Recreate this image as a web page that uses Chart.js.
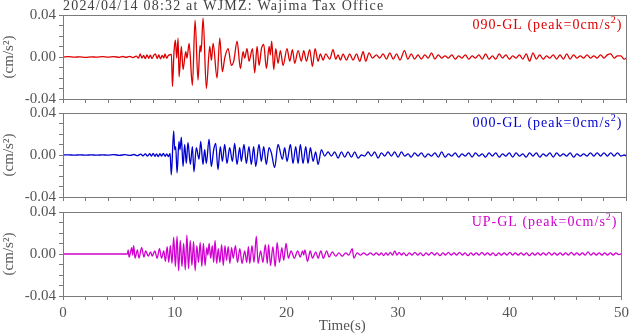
<!DOCTYPE html>
<html><head><meta charset="utf-8">
<script src="https://cdn.jsdelivr.net/npm/chart.js@4.4.1/dist/chart.umd.min.js"></script>
<style>
html,body{margin:0;padding:0;background:#fff;}
#wrap{position:relative;width:633px;height:334px;overflow:hidden;background:#fff;}
canvas{position:absolute;left:0;}
</style></head>
<body><div id="wrap"></div>
<script>
// ---- data (time in s, acceleration in cm/s^2) ----
const TITLE = "2024/04/14 08:32 at WJMZ: Wajima Tax Office";
const CHANNELS = ["090-GL", "000-GL", "UP-GL"];
const PEAKS = ["0", "0", "0"];
const X_TICKS = [0, 10, 20, 30, 40, 50];
const Y_TICKS = [0.04, 0.00, -0.04];

const T090 = [0,0.5,1,1.5,2,2.5,3,3.5,4,4.5,5,5.3,5.6,5.9,6.2,6.5,6.7,6.85,7,7.15,7.3,7.45,7.6,7.75,7.9,8.05,8.2,8.35,8.5,8.65,8.8,8.95,9.05,9.2,9.35,9.47,9.62,
9.71,9.85,9.97,10.09,10.21,10.3,10.5,10.65,10.89,11,11.19,11.48,11.72,11.98,12.16,12.25,12.43,12.72,13.02,13.17,13.32,13.67,13.91,14.14,14.35,14.65,14.94,15.15,15.45,15.74,15.98,16.12,16.33,16.51,16.81,17.01,17.22,17.4,17.61,17.81,18.05,18.29,18.4,18.52,18.7,18.88,19.08,19.29,19.53,19.88,20.12,20.36,20.56,20.86,21.15,21.36,21.6,21.89,22.13,22.37,22.63,22.84,23.08,23.31,23.67,23.96,24.2,24.41,24.62,24.85,25.15,25.44,25.74,26.04,26.33,26.63,26.86,27.16,27.46,27.81,28.1,
28.4,28.7,29,29.3,29.6,29.9,30.3,30.6,30.9,31.2,31.5,31.8,32.1,32.4,32.7,33,33.3,33.6,33.9,34.2,34.5,34.8,35.1,35.4,35.7,36,36.3,36.6,36.9,37.2,37.5,37.8,38.1,38.4,38.7,39,39.3,39.6,39.9,40.2,40.5,40.8,41.1,41.4,41.7,42,42.3,42.6,42.9,43.2,43.5,43.8,44.1,44.4,44.7,45,45.3,45.6,45.9,46.2,46.5,46.8,47.1,47.4,47.7,48,48.3,48.6,48.9,49.2,49.5,49.8,50];
const A090 = [0,0.0003,-0.0002,0.0002,-0.0003,0.0002,-0.0002,0.0003,-0.0002,0.0003,-0.0003,0.0005,-0.0004,0.0006,-0.0005,0.0008,-0.001,0.003,-0.001,0.0015,-0.0015,0.002,-0.0012,0.0018,-0.0015,0.0015,0.003,-0.0015,0.002,-0.0018,0.0015,-0.001,0.003,-0.0012,0.0015,0.002,0.0025,
-0.028,0.005,0.016,-0.001,0.018,-0.019,0.010,-0.012,0.005,-0.001,0.013,-0.027,0.035,-0.022,0.011,0.005,0.037,-0.030,0.010,-0.003,0.013,-0.020,0.018,-0.014,-0.001,0.008,-0.008,-0.004,0.015,-0.011,0.005,-0.001,0.008,-0.004,0.008,-0.015,0.010,-0.008,0.008,0.012,-0.011,0.010,0.002,0.015,-0.012,0.008,-0.006,0.006,-0.008,0.008,-0.004,0.007,-0.006,0.006,-0.004,0.006,-0.004,0.007,-0.009,0.008,-0.004,0.003,-0.003,0.003,-0.002,0.007,-0.002,0.002,-0.003,0.003,-0.003,0.003,-0.003,0.003,-0.004,0.005,-0.004,0.004,-0.001,0.002,-0.001,
0.003,-0.002,0.004,-0.002,0.003,-0.003,0.006,-0.002,0.003,-0.002,0.002,-0.002,0.002,-0.001,0.004,-0.002,0.002,-0.001,0.001,-0.001,0.002,-0.002,0.001,-0.001,0.002,-0.002,0.001,-0.001,0.002,-0.002,0.003,-0.002,0.001,-0.002,0.003,-0.001,0.002,-0.002,0.001,-0.001,0.002,-0.002,0.003,-0.004,0.004,-0.002,0.002,-0.002,0.001,-0.001,0.002,-0.002,0.002,-0.002,0.003,-0.002,0.002,-0.001,0.001,-0.001,0.002,-0.001,0.001,-0.001,0.002,-0.001,0.002,0.003,-0.001,0.001,0.001,-0.002,-0.001];

const T000 = [0,0.5,1,1.5,2,2.5,3,3.5,4,4.5,5,5.5,6,6.3,6.6,6.9,7.1,7.3,7.5,7.7,7.85,8,8.15,8.3,8.45,8.6,8.75,8.9,9.05,9.2,9.35,9.5,
9.61,9.82,9.91,10,10.12,10.29,10.38,10.5,10.65,10.8,10.94,11.09,11.3,11.48,11.62,11.83,12.07,12.22,12.42,12.57,12.72,12.96,13.16,13.37,13.55,13.75,13.96,14.14,14.35,14.55,14.79,15.03,15.23,15.44,15.68,15.82,16.06,16.27,16.5,16.71,16.92,17.1,17.39,17.6,17.81,18.04,18.28,18.49,18.78,19.08,19.47,19.67,19.88,20.18,20.41,20.65,20.86,21.06,21.3,21.54,21.74,21.95,22.19,22.42,22.63,22.93,23.22,23.52,23.81,24.11,24.41,24.7,25,25.29,25.59,25.89,26.18,26.48,26.77,27.07,27.36,27.66,27.96,28.25,28.55,28.84,29.14,29.43,29.73,30.03,30.32,30.62,
30.9,31.2,31.5,31.8,32.1,32.4,32.7,33,33.3,33.6,33.9,34.2,34.5,34.8,35.1,35.4,35.7,36,36.3,36.6,36.9,37.2,37.5,37.8,38.1,38.4,38.7,39,39.3,39.6,39.9,40.2,40.5,40.8,41.1,41.4,41.7,42,42.3,42.6,42.9,43.2,43.5,43.8,44.1,44.4,44.7,45,45.3,45.6,45.9,46.2,46.5,46.8,47.1,47.4,47.7,48,48.3,48.6,48.9,49.2,49.5,49.8,50];
const A000 = [0,0.0002,-0.0002,0.0002,-0.0002,0.0002,-0.0002,0.0002,-0.0002,0.0003,-0.0003,0.0003,-0.0004,0.0005,-0.0006,0.0008,-0.0008,0.001,-0.001,0.0012,-0.001,0.0015,-0.0012,0.001,-0.0015,0.0012,-0.001,0.0015,-0.0012,0.001,-0.0015,0.0015,
-0.019,0.023,0.005,0.008,-0.017,0.013,0.005,0.017,-0.011,0.010,-0.008,0.012,-0.009,0.008,-0.016,0.007,-0.004,0.013,-0.009,0.005,-0.008,0.015,-0.011,0.005,0.011,-0.014,0.008,-0.006,0.010,-0.008,0.007,-0.006,0.011,-0.009,0.007,-0.006,0.010,-0.008,0.008,-0.009,0.008,-0.011,0.010,-0.006,0.008,-0.009,0.007,0.002,-0.012,0.010,-0.004,0.007,-0.006,0.010,-0.008,0.008,-0.008,0.010,-0.008,0.008,-0.008,0.007,-0.006,0.003,-0.009,0.005,-0.001,0.003,-0.001,0.003,-0.003,0.003,-0.002,0.003,-0.002,0.003,-0.003,0.000,-0.001,0.003,-0.001,0.003,-0.003,0.002,-0.001,0.003,-0.001,0.003,-0.002,0.003,-0.001,0.001,
-0.002,0.002,-0.001,0.002,-0.002,0.001,-0.001,0.002,-0.002,0.003,-0.002,0.001,-0.001,0.002,-0.002,0.001,-0.001,0.002,-0.002,0.002,-0.001,0.001,-0.002,0.002,-0.001,0.002,-0.002,0.001,-0.001,0.002,-0.002,0.002,-0.001,0.001,-0.002,0.002,-0.001,0.002,-0.002,0.001,-0.001,0.002,-0.002,0.002,-0.001,0.001,-0.001,0.002,-0.002,0.001,-0.001,0.001,-0.001,0.002,-0.001,0.002,-0.001,0.002,-0.001,0.002,-0.001,0.002,-0.001,0.000,-0.001];

const TUP = [0,5.77,5.83,5.92,6.07,6.15,6.24,6.33,6.45,6.66,6.8,7.04,7.25,7.4,7.63,7.84,7.99,8.22,8.43,8.64,8.82,9.02,9.17,9.32,9.47,9.61,9.76,9.91,10.06,10.21,10.35,10.5,10.65,10.8,10.95,11.09,11.24,11.39,11.54,11.69,11.83,11.98,12.13,12.28,12.43,12.57,12.72,12.87,12.97,13.08,13.22,13.37,13.49,13.61,13.76,13.9,14.05,14.2,14.35,14.5,14.64,14.79,14.94,15.09,15.24,15.44,15.62,15.83,16.03,16.27,16.45,
16.6,16.72,16.92,17.1,17.31,17.46,17.69,17.9,18.11,18.29,18.4,18.58,18.79,19,19.17,19.38,19.59,19.76,19.97,20.18,20.42,20.71,21.01,21.24,21.45,21.55,21.66,21.89,22.13,22.34,22.63,22.84,23.08,23.31,23.61,23.82,24.11,24.41,24.7,25,25.3,25.59,25.89,26.04,26.33,26.63,26.92,27.22,27.51,27.81,28.05,
28.3,28.5,28.7,28.9,29.1,29.3,29.5,29.7,29.9,30.1,30.3,30.5,30.75,31,31.25,31.5,31.75,32,32.25,32.5,32.75,33,33.25,33.5,33.75,34,34.25,34.5,34.75,35,35.25,35.5,35.75,36,36.25,36.5,36.75,37,37.25,37.5,37.75,38,38.25,38.5,38.75,39,39.25,39.5,39.75,40,40.25,40.5,40.75,41,41.25,41.5,41.75,42,42.25,42.5,42.75,43,43.25,43.5,43.75,44,44.25,44.5,44.75,45,45.25,45.5,45.75,46,46.25,46.5,46.75,47,47.25,47.5,47.75,48,48.25,48.5,48.75,49,49.25,49.5,49.75,50];
const AUP = [0,0,0.004,-0.003,0.003,0.006,-0.001,0.008,-0.004,0.004,-0.004,0.006,-0.003,0.003,-0.002,0.002,-0.002,0.003,-0.004,0.005,-0.004,0.003,-0.007,0.007,-0.008,0.008,-0.009,0.016,-0.012,0.017,-0.016,0.013,-0.012,0.010,-0.015,0.018,-0.014,0.013,-0.011,0.012,-0.016,0.008,-0.008,0.011,-0.012,0.010,-0.011,0.006,-0.001,0.010,-0.004,0.008,-0.008,0.013,-0.009,0.005,-0.008,0.009,-0.011,0.008,-0.006,0.007,-0.009,0.006,-0.004,0.008,-0.008,0.005,-0.009,0.003,-0.008,
0.007,-0.009,0.008,-0.008,0.017,-0.009,0.003,-0.008,0.009,-0.009,0.009,-0.011,0.007,-0.012,0.011,-0.008,0.006,-0.006,0.010,-0.004,0.003,-0.004,0.003,-0.003,0.003,-0.001,0.004,-0.007,0.003,-0.004,0.002,-0.004,0.003,-0.004,0.003,-0.003,0.002,-0.002,0.001,-0.002,0.001,-0.001,0.005,-0.004,0.001,-0.001,0.001,-0.001,0.001,-0.001,0.001,
-0.001,0.001,-0.0015,0.001,-0.001,0.0015,-0.001,0.003,-0.001,0.0015,-0.001,0.001,-0.0015,0.001,-0.001,0.0015,-0.001,0.001,-0.0015,0.001,-0.001,0.0015,-0.001,0.001,-0.0015,0.001,-0.001,0.0015,-0.001,0.001,-0.001,0.0015,-0.001,0.001,-0.0015,0.001,-0.001,0.001,-0.001,0.0015,-0.001,0.001,-0.001,0.001,-0.0015,0.001,-0.001,0.001,-0.001,0.0015,-0.001,0.001,-0.001,0.001,-0.001,0.001,-0.0015,0.001,-0.001,0.001,-0.001,0.001,-0.001,0.0015,-0.001,0.001,-0.001,0.001,-0.001,0.001,-0.001,0.0015,-0.001,0.001,-0.001,0.001,-0.001,0.002,-0.001,0.001,-0.001,0.001,-0.001,0.001,-0.001,0.001,-0.001,0.001,-0.0005,0];

const SERIES = [
  {t: T090, a: A090, color: "#dd0000"},
  {t: T000, a: A000, color: "#0000d0"},
  {t: TUP,  a: AUP,  color: "#d000d0"}
];

// ---- styling ----
const FONT = "'Liberation Serif','Times New Roman',serif";
const GRAY = "#7a7a7a";
const TXT = "#555555";
const PANELS = [
  {top: 0,   height: 113, axisH: 14},
  {top: 98,  height: 113, axisH: 14},
  {top: 197, height: 137, axisH: 38}
];

function panelPlugin(idx) {
  return {
    id: "panel" + idx,
    afterDraw(chart) {
      const ctx = chart.ctx, ca = chart.chartArea;
      ctx.save();
      ctx.strokeStyle = GRAY; ctx.lineWidth = 1;
      ctx.strokeRect(Math.round(ca.left) + 0.5, Math.round(ca.top) + 0.5,
                     Math.round(ca.right - ca.left) - 1, Math.round(ca.bottom - ca.top));
      const main = CHANNELS[idx] + " (peak=" + PEAKS[idx] + "cm/s";
      ctx.fillStyle = SERIES[idx].color;
      ctx.textBaseline = "alphabetic";
      ctx.letterSpacing = "1px";
      ctx.font = "14px " + FONT;
      const w1 = ctx.measureText(main).width;
      const w3 = ctx.measureText(")").width;
      ctx.font = "10px " + FONT;
      const w2 = ctx.measureText("2").width;
      const right = ca.right - 4;
      const base = ca.top + 13.5;
      let x = right - (w1 + w2 + w3);
      ctx.font = "14px " + FONT;
      ctx.fillText(main, x, base);
      x += w1;
      ctx.font = "10px " + FONT;
      ctx.fillText("2", x, base - 5.5);
      x += w2;
      ctx.font = "14px " + FONT;
      ctx.fillText(")", x, base);
      if (idx === 0) {
        ctx.fillStyle = "#404040";
        ctx.letterSpacing = "1.2px";
        ctx.font = "14px " + FONT;
        ctx.fillText(TITLE, ca.left, 10);
      }
      ctx.restore();
    }
  };
}

const wrap = document.getElementById("wrap");
PANELS.forEach((p, idx) => {
  const cv = document.createElement("canvas");
  cv.width = 633; cv.height = p.height;
  cv.style.top = p.top + "px";
  wrap.appendChild(cv);
  const last = idx === PANELS.length - 1;
  const s = SERIES[idx];
  new Chart(cv, {
    type: "line",
    data: {datasets: [{
      data: s.t.map((t, i) => ({x: t, y: s.a[i]})),
      borderColor: s.color, borderWidth: 1.3, pointRadius: 0,
      cubicInterpolationMode: "monotone", fill: false
    }]},
    options: {
      responsive: false, animation: false, events: [],
      layout: {padding: {top: 15, right: 6.5, left: 0, bottom: 0}},
      plugins: {legend: {display: false}, tooltip: {enabled: false}, title: {display: false}},
      scales: {
        x: {
          type: "linear", min: 0, max: 50,
          afterFit(sc) { sc.height = p.axisH; },
          ticks: {
            stepSize: 2, autoSkip: false, maxRotation: 0, minRotation: 0,
            padding: 4, color: TXT, font: {family: FONT, size: 15},
            callback: (v) => (last && X_TICKS.includes(Math.round(v))) ? String(Math.round(v)) : ""
          },
          grid: {display: true, drawOnChartArea: false, drawTicks: true, tickLength: 4, color: GRAY, tickColor: GRAY},
          border: {display: false},
          title: {display: last, text: "Time(s)", color: TXT, font: {family: FONT, size: 15, lineHeight: 1}, padding: {top: 0, bottom: 0}}
        },
        y: {
          min: -0.04, max: 0.04,
          afterFit(sc) { sc.width = 63; },
          ticks: {
            stepSize: 0.01, autoSkip: false, padding: 3, color: TXT, font: {family: FONT, size: 15},
            callback: (v) => {
              const r = Math.round(v * 100) / 100;
              return Y_TICKS.some(t => Math.abs(t - r) < 1e-9) ? r.toFixed(2) : "";
            }
          },
          grid: {display: true, drawOnChartArea: false, drawTicks: true, tickLength: 4, color: GRAY, tickColor: GRAY},
          border: {display: false},
          title: {display: true, text: "(cm/s\u00b2)", color: TXT, font: {family: FONT, size: 15, lineHeight: 1}, padding: {top: 2, bottom: 0}}
        }
      }
    },
    plugins: [panelPlugin(idx)]
  });
});
</script></body></html>
